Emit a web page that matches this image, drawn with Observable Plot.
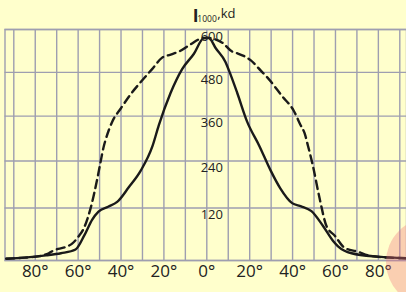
<!DOCTYPE html>
<html>
<head>
<meta charset="utf-8">
<script src="https://cdn.jsdelivr.net/npm/d3@7"></script>
<script src="https://cdn.jsdelivr.net/npm/@observablehq/plot@0.6"></script>
<style>
  html, body { margin: 0; padding: 0; background: #ffffcc; overflow: hidden; }
  #wrap { position: relative; width: 406px; height: 292px; }
  #blob { position: absolute; left: 386px; top: 218px; width: 88px; height: 88px; border-radius: 50%;
          background: rgba(240, 110, 120, 0.33); pointer-events: none; }
</style>
</head>
<body>
<div id="wrap"><div id="chart"></div><div id="blob"></div></div>
<script>
// Angles (degrees) and luminous intensity I1000 (kd) — solid curve
const angleSolid = [-93.5,-85,-75,-68,-61.2,-57,-53.5,-50.5,-46,-41.8,-36.4,-30.8,-25.3,-22.4,-16.9,-11.5,-6,-1.5,1,4.1,8.7,11,14.2,18.8,24.5,29.8,34.2,39.8,44,48.8,54.2,58.9,61.2,67.5,80,93];
const valueSolid = [3,5,9.5,14,22,55,91,111,123,135,172,215,280,335,423,489,532,575,576,548,509,475,423,345,280,215,170,132,124,112,76,41,29,14,7,4];
// dashed curve
const angleDashed = [-93.5,-85,-78,-73.7,-71.4,-66,-62.8,-60,-57.4,-54.2,-51.1,-49.6,-48,-47.2,-44.1,-40.2,-35.6,-30.1,-25.5,-20.8,-16.5,-13,-7.6,-3,0,3,7.2,11.8,14.3,20.4,25.3,28.2,35.2,40.6,43.7,45.6,47.2,49.5,52.6,55.8,59.7,64.4,70.6,75.3,85,93];
const valueDashed = [3,5,8,14,20,27,35,50,70,119,193,236,280,296,345,380,419,458,489,521,530,538,558,574,577,574,563,538,533,514,484,466,414,374,336,314,280,227,144,76,53,25,17,9.5,5,4];
// ticks
const yGrid = [0,120,240,360,480,600];
const yLabels = [120,240,360,480,600];
const xGrid = [-90,-80,-70,-60,-50,-40,-30,-20,-10,0,10,20,30,40,50,60,70,80,90];
const xLabels = [-80,-60,-40,-20,0,20,40,60,80];

const solid = angleSolid.map((a, i) => ({a, v: valueSolid[i]}));
const dashed = angleDashed.map((a, i) => ({a, v: valueDashed[i]}));

const gridColor = "#9e9eb0";
const ink = "#1a1a1a";
const font = "'Open Sans', 'Noto Sans', sans-serif";

const chart = Plot.plot({
  width: 406,
  height: 292,
  marginLeft: 4.5,
  marginRight: 0,
  marginTop: 29,
  marginBottom: 32,
  style: {background: "#ffffcc", fontFamily: font, color: ink, overflow: "visible"},
  x: {domain: [-90, 90], range: [13.3, 399.3], axis: null},
  y: {type: "pow", exponent: 0.92, domain: [0, 600], axis: null},
  marks: [
    Plot.ruleX(xGrid, {stroke: gridColor, strokeWidth: 1.4}),
    Plot.ruleY(yGrid, {stroke: gridColor, strokeWidth: 1.4}),
    Plot.frame({stroke: gridColor, strokeWidth: 1.4}),
    Plot.line(dashed, {x: "a", y: "v", stroke: ink, strokeWidth: 2.4, strokeDasharray: "8,5", curve: "monotone-x"}),
    Plot.line(solid, {x: "a", y: "v", stroke: ink, strokeWidth: 2.4, curve: "monotone-x"}),
    Plot.text(yLabels, {x: 0, y: d => d, text: d => String(d), dx: 5, dy: 7, fontSize: 13, fill: "#222", textAnchor: "middle"}),
    Plot.text(xLabels, {x: d => d, frameAnchor: "bottom", text: d => Math.abs(d) + "°", dy: 16, fontSize: 17, fill: "#222", textAnchor: "middle"}),
    Plot.text(["I"], {x: 0, frameAnchor: "top", text: d => d, dx: -14, dy: -20, fontSize: 17.5, fontWeight: "bold", fill: "#222", textAnchor: "start"}),
    Plot.text(["1000"], {x: 0, frameAnchor: "top", text: d => d, dx: -9.5, dy: -14, fontSize: 8.5, fill: "#222", textAnchor: "start"}),
    Plot.text([",kd"], {x: 0, frameAnchor: "top", text: d => d, dx: 10.5, dy: -21, fontSize: 13, fill: "#222", textAnchor: "start"})
  ]
});
document.getElementById("chart").appendChild(chart);
</script>
</body>
</html>
